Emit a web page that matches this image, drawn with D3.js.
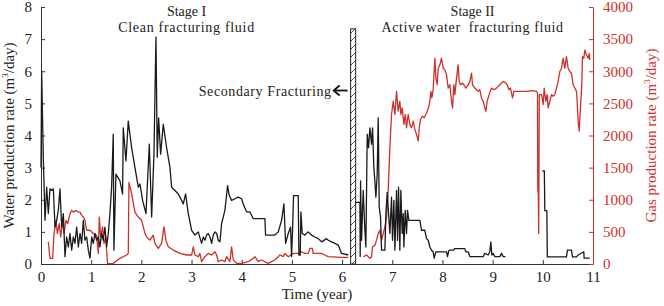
<!DOCTYPE html>
<html><head><meta charset="utf-8">
<script src="https://cdn.jsdelivr.net/npm/d3@7"></script>
<style>
html,body{margin:0;padding:0;background:#fff;}
svg text{font-family:"Liberation Serif","Times New Roman",serif;}
</style></head>
<body><svg id="chart" width="664" height="306"></svg>
<script>
// ---- data (time in years) ----
const xTicks = [0,1,2,3,4,5,6,7,8,9,10,11];
const waterTicks = [0,1,2,3,4,5,6,7,8];
const gasTicks = [0,500,1000,1500,2000,2500,3000,3500,4000];

const waterStage1 = [
[0,3.0],[0.013,6.0],[0.046,3.3],[0.08,1.36],[0.113,2.39],[0.146,1.57],[0.179,2.34],[0.213,2.29],[0.246,2.34],
[0.279,1.15],[0.312,1.36],[0.345,1.67],[0.378,2.34],[0.412,1.15],[0.445,1.57],[0.478,0.23],[0.511,0.84],[0.545,0.53],
[0.578,0.95],[0.611,0.43],[0.644,0.84],[0.677,0.64],[0.711,1.15],[0.744,0.53],[0.777,0.95],[0.81,0.64],[0.843,1.36],
[0.876,0.74],[0.91,0.84],[0.943,0.43],[0.976,0.18],[1.01,0.84],[1.042,0.64],[1.075,0.95],[1.108,0.74],[1.142,0.84],
[1.175,0.53],[1.208,0.95],[1.241,0.74],[1.274,1.15],[1.307,0.53],[1.341,0.95],[1.374,1.57],[1.407,2.39],[1.44,4.04],
[1.453,0.43],[1.493,2.8],[1.573,2.59],[1.626,2.18],[1.639,4.24],[1.693,3.21],[1.739,4.45],[1.806,3.62],[1.872,3.0],
[1.939,2.39],[1.972,2.49],[2.025,1.98],[2.092,1.57],[2.158,3.73],[2.205,1.46],[2.251,3.42],[2.291,7.07],[2.317,3.32],
[2.344,4.55],[2.384,3.42],[2.437,4.35],[2.503,3.62],[2.57,3.0],[2.603,2.39],[2.669,2.29],[2.736,2.18],[2.802,1.98],
[2.835,1.87],[2.882,2.18],[2.935,1.57],[3.002,1.05],[3.068,0.9],[3.134,1.0],[3.2,0.64],[3.234,0.84],[3.267,0.74],
[3.3,0.9],[3.333,0.95],[3.367,0.84],[3.4,0.64],[3.433,0.9],[3.466,1.0],[3.5,0.95],[3.533,0.74],[3.566,0.69],
[3.599,1.26],[3.665,1.67],[3.718,2.44],[3.752,2.13],[3.798,1.98],[3.865,2.03],[3.931,2.08],[3.997,2.03],[4.03,1.87],
[4.097,1.62],[4.163,1.62],[4.23,1.41],[4.462,1.41],[4.475,0.9],[4.661,0.9],[4.728,1.0],[4.794,1.36],[4.841,1.87],
[4.874,0.64],[4.927,0.95],[4.974,1.15],[4.993,0.23],[5.013,1.05],[5.033,2.13],[5.126,2.13],[5.139,0.28],[5.166,0.28],
[5.179,1.62],[5.206,0.95],[5.259,0.9],[5.325,1.0],[5.392,0.9],[5.458,0.84],[5.525,0.79],[5.591,0.69],[5.691,0.79],
[5.724,0.74],[5.79,0.69],[5.857,0.64],[5.923,0.59],[5.989,0.33],[6.122,0.28]
];

const waterStage2a = [
[6.255,1.92],[6.355,1.92],[6.361,0.23],[6.368,2.59],[6.388,0.74],[6.421,2.29],[6.454,1.05],[6.474,0.53],[6.501,4.04],
[6.527,3.62],[6.554,4.24],[6.587,3.73],[6.607,4.24],[6.633,3.0],[6.653,2.59],[6.673,2.08],[6.7,2.8],[6.72,4.55],
[6.74,1.77],[6.766,1.46],[6.786,0.43],[6.853,0.43],[6.873,1.57],[6.899,2.23],[6.926,1.57],[6.952,0.95],[6.985,2.08],
[7.005,0.74],[7.032,1.98],[7.052,0.43],[7.085,2.29],[7.105,0.74],[7.125,2.39],[7.151,0.43],[7.171,2.29],[7.198,0.95],
[7.218,1.57],[7.231,0.53],[7.258,1.67],[7.284,0.95],[7.304,1.67],[7.331,1.36],[7.55,1.36],[7.583,1.05],[7.649,1.05],
[7.683,0.79],[7.716,0.74],[7.749,0.53],[7.782,0.43],[7.815,0.38],[7.835,0.18],[7.869,0.38],[8.081,0.38],[8.101,0.23],
[8.121,0.38],[8.134,0.43],[8.214,0.43],[8.247,0.48],[8.446,0.48],[8.466,0.38],[8.513,0.38],[8.546,0.23],[8.811,0.23],
[8.845,0.33],[8.911,0.28],[8.944,0.38],[8.964,0.69],[8.984,0.28],[9.011,0.33],[9.044,0.23],[9.143,0.23],[9.177,0.33],
[9.21,0.23],[9.256,0.23]
];

const waterStage2b = [
[9.99,2.9],[10.03,2.9],[10.04,1.66],[10.08,1.66],[10.09,0.22],[10.471,0.22],[10.491,0.43],[10.571,0.43],[10.591,0.22],
[10.671,0.22],[10.704,0.28],[10.817,0.38],[10.823,0.18],[10.936,0.18]
];

const gasStage1 = [
[0.146,345],[0.179,88],[0.232,88],[0.259,474],[0.299,680],[0.325,474],[0.365,628],[0.392,422],[0.432,680],[0.458,474],
[0.498,680],[0.531,628],[0.578,783],[0.611,834],[0.644,808],[0.697,834],[0.744,808],[0.777,808],[0.81,757],[0.843,731],
[0.876,680],[0.91,525],[0.976,525],[1.042,474],[1.108,448],[1.142,165],[1.162,731],[1.188,422],[1.228,577],[1.254,320],
[1.294,422],[1.307,217],[1.327,5],[1.44,10],[1.573,88],[1.706,140],[1.739,165],[1.753,1271],[1.806,1091],[1.872,808],
[1.939,731],[2.005,680],[2.039,577],[2.072,474],[2.105,422],[2.171,371],[2.237,448],[2.271,320],[2.337,242],[2.403,320],
[2.45,577],[2.489,371],[2.536,268],[2.636,217],[2.769,165],[2.902,140],[3.002,140],[3.035,268],[3.068,140],[3.135,114],
[3.167,165],[3.2,36],[3.267,114],[3.333,165],[3.4,140],[3.466,191],[3.5,140],[3.533,36],[3.599,62],[3.665,36],
[3.699,114],[3.765,36],[3.798,268],[3.832,62],[3.898,10],[3.997,10],[4.13,36],[4.23,88],[4.263,114],[4.329,36],
[4.396,62],[4.528,10],[4.595,36],[4.661,62],[4.728,114],[4.761,140],[4.827,114],[4.861,165],[4.927,114],[5.026,165],
[5.126,165],[5.192,191],[5.259,165],[5.325,165],[5.358,242],[5.405,242],[5.425,165],[5.591,165],[5.657,140],[5.724,114],
[5.989,103],[6.122,103]
];

const gasStage2 = [
[6.421,113],[6.487,139],[6.554,88],[6.587,113],[6.607,268],[6.653,293],[6.687,371],[6.72,474],[6.753,525],[6.786,371],
[6.82,474],[6.853,577],[6.886,731],[6.919,1143],[6.952,1812],[6.972,2120],[6.985,2327],[7.019,2533],[7.052,2327],[7.085,2687],
[7.118,2378],[7.151,2533],[7.171,2327],[7.198,2430],[7.231,2173],[7.258,2327],[7.284,2120],[7.317,2327],[7.351,2173],[7.384,2120],
[7.417,2224],[7.45,2095],[7.483,2018],[7.517,1915],[7.537,2120],[7.563,2250],[7.603,2301],[7.636,2275],[7.669,2327],[7.696,2378],
[7.723,2430],[7.749,2533],[7.769,2687],[7.789,2584],[7.815,2713],[7.849,3202],[7.869,2893],[7.895,2790],[7.915,3047],[7.948,3099],
[7.981,3202],[8.015,3047],[8.048,3021],[8.081,2945],[8.114,2738],[8.147,2790],[8.181,2533],[8.201,2430],[8.227,2790],[8.247,2636],
[8.28,2893],[8.313,3099],[8.333,2842],[8.36,2790],[8.4,2816],[8.426,2790],[8.466,2738],[8.513,2790],[8.546,2842],[8.579,2970],
[8.599,2790],[8.645,2738],[8.679,2713],[8.712,2687],[8.745,2713],[8.778,2584],[8.811,2533],[8.845,2430],[8.865,2378],[8.891,2533],
[8.931,2636],[8.978,2738],[9.024,2713],[9.077,2738],[9.11,2764],[9.143,2790],[9.177,2816],[9.21,2842],[9.263,2816],[9.29,2790],
[9.323,2713],[9.356,2738],[9.376,2661],[9.396,2584],[9.422,2687],[9.462,2687],[9.675,2687],[9.807,2697],[9.874,2687],[9.894,2661],
[9.9,1143],[9.91,1092],[9.918,474],[9.93,2636],[9.974,2636],[10.007,2482],[10.027,2738],[10.06,2533],[10.086,2636],[10.106,2430],
[10.139,2533],[10.173,2636],[10.206,2610],[10.239,2636],[10.272,2738],[10.305,2842],[10.339,2996],[10.372,3047],[10.405,3202],[10.438,3047],
[10.471,3228],[10.505,3047],[10.538,2996],[10.571,2970],[10.604,2790],[10.637,2738],[10.671,2687],[10.684,2533],[10.704,2224],[10.724,2070],
[10.75,2430],[10.777,2790],[10.79,3228],[10.817,3202],[10.837,3330],[10.87,3253],[10.903,3202],[10.923,3279],[10.936,3176]
];

// secondary fracturing event: time span (years) and height (water units)
const fracEvent = {start: 6.17, end: 6.27, top: 7.32, arrowAt: 5.4};

// ---- drawing ----
const W = 664, H = 306;
const m = {left: 41, right: 71, top: 7, bottom: 42};
const svg = d3.select("#chart");
const red = "#cf2f2a";

const x = d3.scaleLinear().domain([0, 11]).range([m.left, W - m.right]);
const yW = d3.scaleLinear().domain([0, 8]).range([H - m.bottom, m.top]);
const yG = d3.scaleLinear().domain([0, 4000]).range([H - m.bottom, m.top]);

// hatch pattern
const defs = svg.append("defs");
const pat = defs.append("pattern").attr("id","hatch").attr("patternUnits","userSpaceOnUse")
  .attr("width", 8).attr("height", 8);
pat.append("path").attr("d","M0,8 L8,0 M-2,2 L2,-2 M6,10 L10,6").attr("stroke","#333").attr("stroke-width",0.9);

// axes
const fs = "15px";
const ax = svg.append("g").attr("transform",`translate(0,${H - m.bottom})`)
  .call(d3.axisBottom(x).tickValues(xTicks).tickFormat(d3.format("d")).tickSizeInner(-4).tickSizeOuter(0).tickPadding(7));
ax.selectAll("text").attr("font-size", fs).attr("fill","#222");
ax.selectAll("line, path").attr("stroke","#333");

const al = svg.append("g").attr("transform",`translate(${m.left},0)`)
  .call(d3.axisLeft(yW).tickValues(waterTicks).tickFormat(d3.format("d")).tickSizeInner(-4).tickSizeOuter(0).tickPadding(9));
al.selectAll("text").attr("font-size", fs).attr("fill","#222");
al.selectAll("line, path").attr("stroke","#333");

const ar = svg.append("g").attr("transform",`translate(${W - m.right},0)`)
  .call(d3.axisRight(yG).tickValues(gasTicks).tickFormat(d3.format("d")).tickSizeInner(-4).tickSizeOuter(0).tickPadding(10));
ar.selectAll("text").attr("font-size", fs).attr("fill", red);
ar.selectAll("line, path").attr("stroke", red);

// lines
const lineW = d3.line().x(d => x(d[0])).y(d => yW(d[1]));
const lineG = d3.line().x(d => x(d[0])).y(d => yG(d[1]));

[gasStage1, gasStage2].forEach(s => svg.append("path").datum(s).attr("d", lineG)
  .attr("fill","none").attr("stroke", red).attr("stroke-width",1.3).attr("stroke-linejoin","round"));
[waterStage1, waterStage2a, waterStage2b].forEach(s => svg.append("path").datum(s).attr("d", lineW)
  .attr("fill","none").attr("stroke","#1a1a1a").attr("stroke-width",1.3).attr("stroke-linejoin","round"));

// secondary fracturing bar
svg.append("rect").attr("x", x(fracEvent.start)).attr("y", yW(fracEvent.top))
  .attr("width", x(fracEvent.end) - x(fracEvent.start)).attr("height", yW(0) - yW(fracEvent.top))
  .attr("fill","url(#hatch)").attr("stroke","#222").attr("stroke-width",1);

// arrow
const ay = yW(fracEvent.arrowAt);
const ax0 = x(fracEvent.start) - 3, ax1 = x(fracEvent.start) - 17;
svg.append("line").attr("x1", ax0).attr("y1", ay).attr("x2", ax1 + 1).attr("y2", ay).attr("stroke","#111").attr("stroke-width",1.8);
svg.append("path").attr("d", `M${ax1+6},${ay-5} L${ax1},${ay} L${ax1+6},${ay+5}`)
  .attr("fill","none").attr("stroke","#111").attr("stroke-width",1.8);

// texts
const t = (txt, px, py, anchor, size, fill) => svg.append("text").attr("x", px).attr("y", py)
  .attr("text-anchor", anchor || "middle").attr("font-size", size || "15px").attr("fill", fill || "#222").text(txt);

t("Stage I", x(2.9), 16, "middle", "14px");
t("Clean fracturing fluid", x(2.9), 32, "middle", "14px").attr("letter-spacing","0.7px");
t("Stage II", x(8.6), 16, "middle", "14px");
t("Active water  fracturing fluid", x(8.6), 32, "middle", "14px").attr("letter-spacing","0.6px").style("white-space","pre");
t("Secondary Fracturing", ax1 - 2, ay + 5, "end", "14px").attr("letter-spacing","0.6px");

t("Time (year)", x(5.5), 299);

const wl = svg.append("text").attr("transform", `translate(14,${(yW(0)+yW(8))/2}) rotate(-90)`)
  .attr("text-anchor","middle").attr("font-size","15px").attr("fill","#222");
wl.append("tspan").text("Water production rate (m");
wl.append("tspan").attr("font-size","9px").attr("dy",-6).text("3");
wl.append("tspan").attr("dy",6).text("/day)");

const gl = svg.append("text").attr("transform", `translate(656,${(yW(0)+yW(8))/2}) rotate(-90)`)
  .attr("text-anchor","middle").attr("font-size","15px").attr("fill", red);
gl.append("tspan").text("Gas production rate (m");
gl.append("tspan").attr("font-size","9px").attr("dy",-6).text("3");
gl.append("tspan").attr("dy",6).text("/day)");
</script></body></html>
